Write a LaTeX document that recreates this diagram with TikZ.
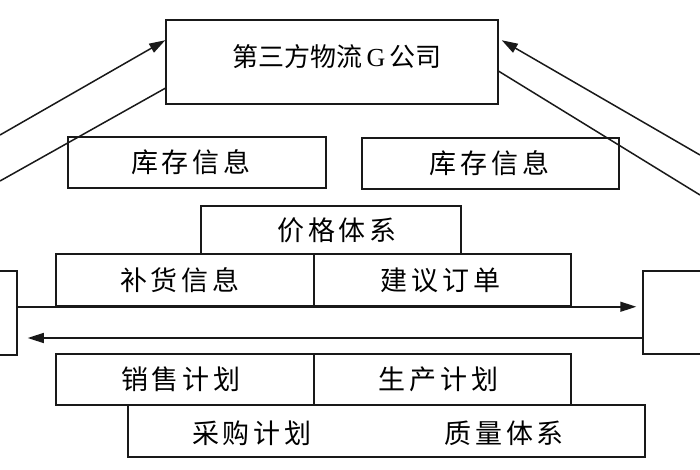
\documentclass[tikz,border=0pt]{standalone}
\usepackage{fontspec}
\newfontfamily\cjk{Noto Sans CJK SC}
\newfontfamily\latinserif{Liberation Serif}
\usetikzlibrary{arrows.meta,calc}
\newcommand\fourch[4]{#1\hspace{4pt}#2\hspace{4pt}#3\hspace{4pt}#4}
\tikzset{
  box/.style={draw=black!90, line width=1.5pt, inner sep=0pt},
  txt/.style={inner sep=0pt, font=\cjk\fontsize{27}{29}\selectfont},
  boxtext/.style 2 args={label={[txt,xshift=#1]center:#2}},
  ln/.style={draw=black!90, line width=1.5pt},
  arr/.style={ln, -{Triangle[length=16pt,width=10pt]}}
}
\begin{document}
\begin{tikzpicture}[x=1pt,y=-1pt]
\useasboundingbox (0,0) rectangle (700,470);
\clip (0,0) rectangle (700,470);
\fill[white] (0,0) rectangle (700,470);
% top company box
\node[box, minimum width=332, minimum height=84,
  label={[txt, font=\cjk\fontsize{26}{28}\selectfont, xshift=5pt, yshift=5pt]center:第三方物流\,{\latinserif G}\,公司}] (g) at (332,62) {};
% inventory info
\node[box, minimum width=258, minimum height=51, boxtext={-6pt}{\fourch{库}{存}{信}{息}}] (inv1) at (197,162.5) {};
\node[box, minimum width=257, minimum height=51, boxtext={-1pt}{\fourch{库}{存}{信}{息}}] (inv2) at (490.5,163.5) {};
% price system
\node[box, minimum width=260, minimum height=48, boxtext={6pt}{\fourch{价}{格}{体}{系}}] (price) at (331,230) {};
% replenish / order suggestion
\node[box, minimum width=258, minimum height=52, boxtext={-5pt}{\fourch{补}{货}{信}{息}}] (bh) at (185,280) {};
\node[box, minimum width=257, minimum height=52, boxtext={-2pt}{\fourch{建}{议}{订}{单}}] (jy) at (442.5,280) {};
% sales / production plans
\node[box, minimum width=258, minimum height=51, boxtext={-4pt}{\fourch{销}{售}{计}{划}}] (xs) at (185,379.5) {};
\node[box, minimum width=257, minimum height=51, boxtext={-4pt}{\fourch{生}{产}{计}{划}}] (sc) at (442.5,379.5) {};
% bottom box
\node[box, minimum width=517, minimum height=52] (bot) at (386.5,431) {};
\node[txt] (cg) at (252,433) {\fourch{采}{购}{计}{划}};
\node[txt] (zl) at (504,433) {\fourch{质}{量}{体}{系}};
% side boxes (partly outside)
\node[box, minimum width=77, minimum height=84] (L) at (-21.5,313) {};
\node[box, minimum width=117, minimum height=83] (R) at (701.5,312.5) {};
% horizontal arrows
\coordinate (low) at (0,338);
\draw[arr, shorten >=6pt] (L.east |- bh.south) -- (R.west |- bh.south);
\draw[arr, shorten >=10pt] (R.west |- low) -- (L.east |- low);
% diagonal connectors
\coordinate (la) at (0,135);
\coordinate (lb) at (0,181);
\coordinate (ra) at (700,155);
\coordinate (rb) at (700,195);
\draw[arr] (la) -- ($(g.north west)+(0,21)$);
\draw[ln] ($(g.north west)+(0,69)$) -- (lb);
\draw[arr] (ra) -- ($(g.north east)+(3,21)$);
\draw[ln] ($(g.north east)+(0,52)$) -- (rb);
\end{tikzpicture}
\end{document}
